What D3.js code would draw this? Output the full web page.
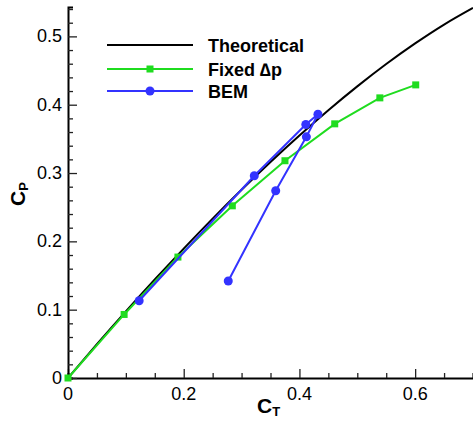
<!DOCTYPE html>
<html>
<head>
<meta charset="utf-8">
<script src="https://cdn.jsdelivr.net/npm/d3@7"></script>
<style>
  body { margin: 0; background: #fff; }
  svg { display: block; font-family: "Liberation Sans", Arial, sans-serif; }
</style>
</head>
<body>
<script>
// theoretical curve
const theoryCT = [0, 0.05, 0.1, 0.15, 0.2, 0.25, 0.3, 0.35, 0.4, 0.45, 0.5, 0.55, 0.6, 0.65, 0.7];
const theoryCP = [0, 0.0494, 0.0974, 0.1441, 0.1894, 0.2333, 0.2755, 0.3161, 0.3549, 0.3919, 0.4268, 0.4595, 0.4897, 0.5173, 0.5417];

// fixed delta-p points
const fixedCT = [0, 0.097, 0.19, 0.284, 0.375, 0.461, 0.539, 0.601];
const fixedCP = [0, 0.093, 0.177, 0.252, 0.318, 0.372, 0.410, 0.429];

// BEM points, in drawing order
const bemCT = [0.123, 0.322, 0.411, 0.432, 0.412, 0.359, 0.277];
const bemCP = [0.113, 0.296, 0.371, 0.386, 0.353, 0.274, 0.142];

const xTicks = [0, 0.2, 0.4, 0.6];
const yTicks = [0, 0.1, 0.2, 0.3, 0.4, 0.5];

const width = 473, height = 426;
const margin = {left: 68, top: 7, bottom: 48};
const x = d3.scaleLinear().domain([0, 0.7]).range([margin.left, 473]);
const y = d3.scaleLinear().domain([0, 0.543]).range([height - margin.bottom, margin.top]);

const svg = d3.select('body').append('svg')
  .attr('width', width)
  .attr('height', height);

const zip = (a, b) => a.map((v, i) => [v, b[i]]);
const line = d3.line().x(d => x(d[0])).y(d => y(d[1]));

const green = '#1fdc1f', blue = '#3333ff';

// axes
const xAxis = svg.append('g')
  .attr('transform', `translate(0,${y(0)})`)
  .call(d3.axisBottom(x).tickValues(d3.range(0, 0.701, 0.05)).tickSize(-5).tickFormat(''));
xAxis.selectAll('.tick line')
  .attr('y2', (d, i) => i % 4 === 0 ? -9 : -5);
xAxis.select('.domain').attr('stroke-width', 2);

const yAxis = svg.append('g')
  .attr('transform', `translate(${x(0)},0)`)
  .call(d3.axisLeft(y).tickValues(d3.range(0, 0.541, 0.02)).tickSize(-5).tickFormat(''));
yAxis.selectAll('.tick line')
  .attr('x2', (d, i) => i % 5 === 0 ? 9 : 5);
yAxis.select('.domain').attr('stroke-width', 2);
svg.selectAll('.tick line').attr('stroke-width', 1.3).attr('stroke', '#222');

svg.append('g').selectAll('text')
  .data(xTicks).join('text')
  .attr('x', d => x(d))
  .attr('y', y(0) + 22)
  .attr('text-anchor', 'middle')
  .attr('font-size', 18)
  .text(d => d === 0 ? '0' : d3.format('.1f')(d));

svg.append('g').selectAll('text')
  .data(yTicks).join('text')
  .attr('x', x(0) - 6)
  .attr('y', d => y(d) + 6)
  .attr('text-anchor', 'end')
  .attr('font-size', 18)
  .text(d => d === 0 ? '0' : d3.format('.1f')(d));

// axis titles
const xt = svg.append('text')
  .attr('x', 257).attr('y', 413)
  .attr('font-size', 21).attr('font-weight', 'bold');
xt.append('tspan').text('C');
xt.append('tspan').attr('font-size', 13).attr('dy', 3).text('T');

const yt = svg.append('text')
  .attr('transform', 'translate(25,206) rotate(-90)')
  .attr('font-size', 21).attr('font-weight', 'bold');
yt.append('tspan').text('C');
yt.append('tspan').attr('font-size', 13).attr('dy', 3).text('P');

// series
svg.append('path')
  .attr('d', line.curve(d3.curveMonotoneX)(zip(theoryCT, theoryCP)))
  .attr('fill', 'none').attr('stroke', '#000').attr('stroke-width', 2);
line.curve(d3.curveLinear);

svg.append('path')
  .attr('d', line(zip(fixedCT, fixedCP)))
  .attr('fill', 'none').attr('stroke', green).attr('stroke-width', 2);
svg.append('g').selectAll('rect')
  .data(zip(fixedCT, fixedCP)).join('rect')
  .attr('x', d => x(d[0]) - 3.5).attr('y', d => y(d[1]) - 3.5)
  .attr('width', 7).attr('height', 7)
  .attr('fill', green);

svg.append('path')
  .attr('d', line(zip(bemCT, bemCP)))
  .attr('fill', 'none').attr('stroke', blue).attr('stroke-width', 2);
svg.append('g').selectAll('circle')
  .data(zip(bemCT, bemCP)).join('circle')
  .attr('cx', d => x(d[0])).attr('cy', d => y(d[1]))
  .attr('r', 4.5)
  .attr('fill', blue);

// legend
const legend = [
  {name: 'Theoretical', color: '#000', mark: null, y: 45},
  {name: 'Fixed \u2206p', color: green, mark: 'square', y: 69},
  {name: 'BEM', color: blue, mark: 'circle', y: 91}
];
const lg = svg.append('g').selectAll('g').data(legend).join('g')
  .attr('transform', d => `translate(107,${d.y})`);
lg.append('line').attr('x1', 0).attr('x2', 86)
  .attr('stroke', d => d.color).attr('stroke-width', 2);
lg.filter(d => d.mark === 'square').append('rect')
  .attr('x', 39.5).attr('y', -3.5).attr('width', 7).attr('height', 7)
  .attr('fill', d => d.color);
lg.filter(d => d.mark === 'circle').append('circle')
  .attr('cx', 43).attr('r', 4.5).attr('fill', d => d.color);
lg.append('text').attr('x', 101).attr('y', 6.5)
  .attr('font-size', 18).attr('font-weight', 'bold')
  .text(d => d.name);
</script>
</body>
</html>
